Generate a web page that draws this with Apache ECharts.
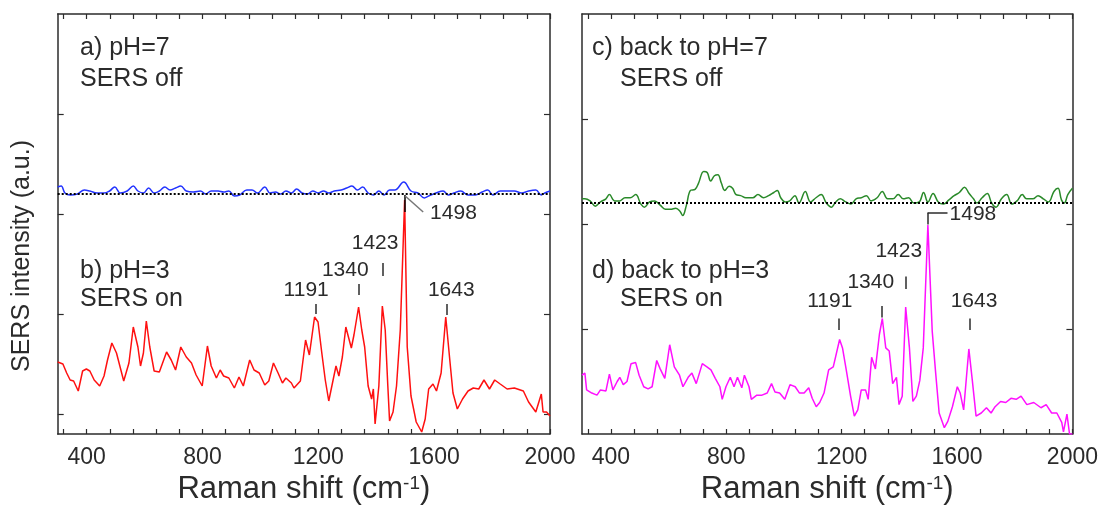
<!DOCTYPE html>
<html><head><meta charset="utf-8">
<script src="https://cdn.jsdelivr.net/npm/echarts@6/dist/echarts.min.js"></script>
<style>html,body{margin:0;padding:0;background:#fff}#c{width:1101px;height:510px}</style>
</head><body><div id="c"></div>
<script>
// ---- data (Raman shift in cm-1, intensity in a.u.) ----
const xTickLabels = [400, 800, 1200, 1600, 2000];
const xMinorTicks = [320,400,480,560,640,720,800,880,960,1040,1120,1200,1280,1360,1440,1520,1600,1680,1760,1840,1920,2000];
const baseline = 2.2;
const peakLabels = [1191, 1340, 1423, 1643];
const mainPeak = 1498;

// a) pH=7, SERS off (blue)
const wnA = [300,312,325,343,368,392,411,436,460,479,497,516,540,561,577,596,614,633,651,670,688,707,725,744,768,793,811,830,854,873,891,910,928,953,971,990,1015,1033,1052,1070,1088,1107,1125,1144,1162,1181,1199,1218,1236,1255,1279,1298,1316,1335,1353,1372,1390,1409,1427,1446,1464,1495,1520,1544,1566,1581,1606,1631,1649,1668,1692,1717,1742,1766,1785,1803,1828,1852,1877,1902,1926,1951,1970,1982,2000];
const intA = [2.27,2.28,2.21,2.19,2.20,2.24,2.23,2.21,2.21,2.23,2.27,2.21,2.23,2.28,2.23,2.21,2.26,2.21,2.23,2.27,2.24,2.26,2.28,2.23,2.22,2.23,2.20,2.23,2.23,2.22,2.23,2.18,2.19,2.24,2.24,2.21,2.27,2.21,2.22,2.20,2.23,2.21,2.25,2.21,2.20,2.23,2.21,2.23,2.21,2.23,2.24,2.26,2.28,2.24,2.27,2.21,2.19,2.23,2.19,2.24,2.24,2.32,2.23,2.21,2.16,2.18,2.21,2.23,2.19,2.21,2.23,2.19,2.19,2.22,2.24,2.19,2.23,2.23,2.23,2.21,2.23,2.24,2.19,2.21,2.23];

// b) pH=3, SERS on (red)
const wnB = [300,318,331,343,355,371,386,399,411,426,445,460,472,487,503,528,546,561,577,586,596,606,618,633,651,676,692,707,725,744,762,778,799,817,830,848,861,873,891,910,926,941,963,978,996,1015,1029,1045,1061,1076,1088,1107,1116,1138,1156,1169,1187,1199,1212,1224,1236,1251,1261,1271,1283,1295,1304,1314,1323,1339,1350,1360,1372,1384,1390,1396,1409,1421,1431,1440,1446,1458,1470,1483,1498,1507,1520,1538,1557,1569,1581,1596,1608,1624,1640,1653,1665,1680,1698,1717,1735,1754,1772,1791,1809,1828,1852,1877,1908,1926,1951,1970,1976,1988,2000];
const intB = [0.52,0.50,0.41,0.34,0.33,0.23,0.43,0.45,0.43,0.34,0.28,0.38,0.54,0.71,0.61,0.33,0.51,0.87,0.67,0.48,0.61,0.93,0.67,0.43,0.42,0.62,0.54,0.44,0.67,0.57,0.51,0.39,0.28,0.68,0.48,0.36,0.44,0.38,0.36,0.26,0.37,0.28,0.54,0.44,0.41,0.29,0.33,0.51,0.41,0.31,0.36,0.31,0.26,0.33,0.74,0.59,0.97,0.92,0.61,0.34,0.13,0.34,0.48,0.38,0.57,0.87,0.77,0.66,0.79,1.07,0.84,0.67,0.28,0.15,0.25,-0.10,0.28,1.08,0.84,0.28,-0.07,0.02,0.28,0.84,2.14,0.67,0.18,-0.08,-0.18,-0.05,0.25,0.30,0.23,0.41,0.97,0.57,0.21,0.05,0.15,0.23,0.26,0.25,0.34,0.25,0.34,0.30,0.25,0.26,0.23,0.12,0.02,0.20,0.02,0.02,-0.02];

// c) back to pH=7, SERS off (green)
const wnC = [300,310,328,346,364,383,395,413,431,449,467,486,504,516,534,552,571,589,607,625,640,649,662,676,692,704,722,734,746,759,771,783,795,810,822,834,850,868,892,910,929,947,965,977,989,1004,1020,1038,1052,1074,1092,1111,1129,1147,1165,1177,1195,1214,1232,1250,1268,1286,1302,1323,1341,1359,1378,1396,1414,1432,1450,1469,1484,1499,1517,1535,1553,1572,1590,1608,1626,1642,1657,1669,1687,1705,1720,1735,1754,1772,1790,1808,1826,1841,1863,1881,1899,1917,1936,1950,1962,1972,1984,2000];
const intC = [2.24,2.24,2.22,2.17,2.21,2.24,2.28,2.22,2.22,2.25,2.25,2.28,2.19,2.16,2.21,2.22,2.18,2.14,2.14,2.15,2.12,2.08,2.18,2.32,2.33,2.39,2.50,2.49,2.41,2.46,2.47,2.39,2.32,2.36,2.34,2.28,2.27,2.25,2.25,2.28,2.25,2.27,2.30,2.32,2.25,2.21,2.22,2.27,2.20,2.31,2.21,2.25,2.28,2.20,2.16,2.20,2.24,2.21,2.19,2.24,2.25,2.27,2.22,2.25,2.31,2.24,2.24,2.28,2.24,2.25,2.20,2.21,2.30,2.21,2.29,2.21,2.19,2.23,2.27,2.30,2.35,2.29,2.24,2.20,2.25,2.29,2.20,2.16,2.24,2.28,2.19,2.22,2.28,2.24,2.24,2.27,2.24,2.21,2.31,2.34,2.23,2.20,2.28,2.34];

// d) back to pH=3, SERS on (magenta)
const wnD = [300,310,316,334,352,364,383,395,407,422,431,443,456,470,486,498,514,529,543,559,571,587,604,620,638,650,668,681,696,717,733,747,762,778,786,799,814,827,839,854,863,879,887,906,924,942,957,969,985,1003,1021,1039,1054,1070,1086,1098,1112,1124,1139,1155,1171,1193,1203,1216,1231,1244,1256,1268,1283,1292,1304,1317,1331,1341,1353,1365,1377,1390,1399,1410,1422,1435,1447,1459,1471,1483,1499,1514,1526,1538,1556,1568,1584,1601,1611,1623,1641,1653,1666,1684,1702,1718,1732,1751,1769,1787,1805,1822,1842,1866,1891,1909,1928,1946,1963,1969,1981,1990,2000];
const intD = [0.56,0.58,0.42,0.39,0.37,0.42,0.41,0.57,0.42,0.50,0.54,0.47,0.50,0.67,0.68,0.56,0.45,0.43,0.45,0.70,0.62,0.53,0.85,0.64,0.56,0.45,0.54,0.58,0.48,0.67,0.64,0.61,0.53,0.45,0.33,0.45,0.54,0.45,0.54,0.44,0.56,0.45,0.33,0.37,0.37,0.39,0.48,0.40,0.39,0.33,0.47,0.45,0.39,0.39,0.44,0.34,0.26,0.30,0.39,0.61,0.64,0.90,0.82,0.61,0.36,0.17,0.23,0.42,0.42,0.33,0.73,0.62,0.95,1.10,0.82,0.79,0.48,0.54,0.28,0.36,1.21,0.82,0.31,0.36,0.51,0.82,1.99,0.98,0.58,0.20,0.06,0.12,0.26,0.45,0.39,0.23,0.81,0.51,0.17,0.20,0.25,0.20,0.26,0.31,0.30,0.34,0.33,0.36,0.28,0.30,0.25,0.28,0.20,0.20,0.11,0.02,0.19,0.00,0.00];

// ---- layout / style ----
const FONT = 'Liberation Sans, Arial, sans-serif';
const INK = '#2b2b2b';
const pairs = (w, v) => w.map((x, i) => [x, v[i]]);

const layout = {
  left:  { yMin: -0.2, yMax: 4, yTicks: [0,1,2,3],
           ticks: [[1191,1.00,1.10],[1340,1.19,1.30],[1423,1.38,1.51],[1643,0.99,1.10]],
           labels: [[1158,1.24],[1293,1.44],[1396,1.71],[1659,1.24]],
           mainText: [1586, 2.01] },
  right: { yMin: 0, yMax: 4, yTicks: [1,2,3],
           ticks: [[1191,0.99,1.10],[1340,1.11,1.22],[1423,1.38,1.50],[1643,0.99,1.10]],
           labels: [[1159,1.267],[1301,1.447],[1398,1.74],[1659,1.267]],
           mainText: [1574, 2.093] }
};

function xAx(grid, top) {
  return {
    type: 'value', gridIndex: grid, min: 300, max: 2000, position: top ? 'top' : 'bottom',
    axisLine: { show: true, onZero: false, lineStyle: { color: INK, width: 1.5 } },
    axisTick: { show: true, inside: true, length: 5, customValues: xMinorTicks, lineStyle: { color: INK, width: 1.2 } },
    axisLabel: { show: !top, customValues: xTickLabels, formatter: v => String(v), margin: 12,
                 fontSize: 23, fontFamily: FONT, color: INK },
    splitLine: { show: false },
    name: top ? '' : 'Raman shift (cm{s|-1})',
    nameLocation: 'middle', nameGap: 40,
    nameTextStyle: { fontSize: 31, fontFamily: FONT, color: INK,
      rich: { s: { fontSize: 19, fontFamily: FONT, color: INK, verticalAlign: 'top', lineHeight: 14 } } }
  };
}
function yAx(grid, right, L) {
  return {
    type: 'value', gridIndex: grid, min: L.yMin, max: L.yMax, position: right ? 'right' : 'left',
    axisLine: { show: true, onZero: false, lineStyle: { color: INK, width: 1.5 } },
    axisTick: { show: true, inside: true, length: 6, customValues: L.yTicks, lineStyle: { color: INK, width: 1.2 } },
    axisLabel: { show: false }, splitLine: { show: false }
  };
}
function tickLines(L) {
  return L.ticks.map(t => [{ coord: [t[0], t[1]] }, { coord: [t[0], t[2]] }]);
}

const chart = echarts.init(document.getElementById('c'), null, { renderer: 'canvas' });
const option = {
  animation: false,
  backgroundColor: '#fff',
  grid: [
    { left: 57.7, top: 14, width: 492.3, height: 423 },
    { left: 582, top: 14, width: 491, height: 423 }
  ],
  xAxis: [xAx(0, false), xAx(0, true), xAx(1, false), xAx(1, true)],
  yAxis: [yAx(0, false, layout.left), yAx(0, true, layout.left), yAx(1, false, layout.right), yAx(1, true, layout.right)],
  series: [
    { type: 'line', xAxisIndex: 0, yAxisIndex: 0, data: pairs(wnA, intA), showSymbol: false, smooth: 0.4,
      lineStyle: { color: '#2233ff', width: 1.5 }, z: 3,
      markLine: { silent: true, symbol: ['none','none'], label: { show: false },
        lineStyle: { color: '#000', type: 'dotted', width: 2 },
        data: [{ yAxis: baseline }] } },
    { type: 'line', xAxisIndex: 0, yAxisIndex: 0, data: pairs(wnB, intB), showSymbol: false,
      lineStyle: { color: '#ff1010', width: 1.5 }, z: 3,
      markLine: { silent: true, symbol: ['none','none'], label: { show: false },
        lineStyle: { color: INK, type: 'solid', width: 1.5 },
        data: tickLines(layout.left).concat([
          [{ coord: [mainPeak, 2.02], lineStyle: { color: '#000' } }, { coord: [mainPeak, 2.19] }],
          [{ coord: [1500, 2.18], lineStyle: { color: '#777' } }, { coord: [1562, 2.02] }]
        ]) } },
    { type: 'line', xAxisIndex: 2, yAxisIndex: 2, data: pairs(wnC, intC), showSymbol: false, smooth: 0.4,
      lineStyle: { color: '#2a8a2a', width: 1.5 }, z: 3,
      markLine: { silent: true, symbol: ['none','none'], label: { show: false },
        lineStyle: { color: '#000', type: 'dotted', width: 2 },
        data: [{ yAxis: baseline }] } },
    { type: 'line', xAxisIndex: 2, yAxisIndex: 2, data: pairs(wnD, intD), showSymbol: false,
      lineStyle: { color: '#ff10ff', width: 1.5 }, z: 3,
      markLine: { silent: true, symbol: ['none','none'], label: { show: false },
        lineStyle: { color: INK, type: 'solid', width: 1.5 },
        data: tickLines(layout.right).concat([
          [{ coord: [mainPeak, 1.995] }, { coord: [mainPeak, 2.107] }],
          [{ coord: [mainPeak, 2.107] }, { coord: [1567, 2.107] }]
        ]) } }
  ]
};
chart.setOption(option);

// text annotations placed through the axes' scales
function txt(t, p, size, align) {
  return { type: 'text', x: p[0], y: p[1], z: 10, silent: true,
    style: { text: t, fontSize: size, fontFamily: FONT, fill: INK, align: align || 'center', verticalAlign: 'middle' } };
}
const g = [];
[['left', 0], ['right', 2]].forEach(([k, idx]) => {
  const L = layout[k];
  L.labels.forEach((p, i) => {
    g.push(txt(String(peakLabels[i]), chart.convertToPixel({ xAxisIndex: idx, yAxisIndex: idx }, p), 21));
  });
  g.push(txt(String(mainPeak), chart.convertToPixel({ xAxisIndex: idx, yAxisIndex: idx }, L.mainText), 21, 'left'));
});
g.push(txt('a) pH=7', [80, 48], 25, 'left'));
g.push(txt('SERS off', [80, 79], 25, 'left'));
g.push(txt('b) pH=3', [80, 271], 25, 'left'));
g.push(txt('SERS on', [80, 299], 25, 'left'));
g.push(txt('c) back to pH=7', [592, 48], 25, 'left'));
g.push(txt('SERS off', [620, 79], 25, 'left'));
g.push(txt('d) back to pH=3', [592, 271], 25, 'left'));
g.push(txt('SERS on', [620, 299], 25, 'left'));
g.push({ type: 'text', x: 22, y: 256, rotation: Math.PI / 2, z: 10, silent: true,
  style: { text: 'SERS intensity (a.u.)', fontSize: 25, fontFamily: FONT, fill: INK, align: 'center', verticalAlign: 'middle' } });
chart.setOption({ graphic: g });
</script>
</body></html>
